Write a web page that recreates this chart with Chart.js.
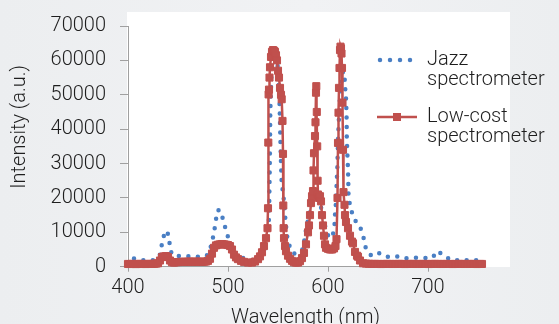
<!DOCTYPE html>
<html>
<head>
<meta charset="utf-8">
<script src="https://cdn.jsdelivr.net/npm/chart.js@4.4.1/dist/chart.umd.min.js"></script>
<style>
    html, body { margin: 0; padding: 0; }
    body {
        width: 559px;
        height: 324px;
        overflow: hidden;
        position: relative;
        background: linear-gradient(90deg, #eceef0 0%, #f1f2f4 55%, #eceef0 100%);
    }
    #plotBg { position: absolute; left: 127px; top: 12px; width: 383px; height: 255px; background: #fff; }
    #chart { position: absolute; left: 0; top: 0; }
</style>
</head>
<body>
<div id="plotBg"></div>
<canvas id="chart" width="559" height="324"></canvas>
<script>
const FONT = 'Roboto, "DejaVu Sans", sans-serif';
const FONT_WEIGHT = 300;
const TEXT_COLOR = '#1e1e1e';
const AXIS_COLOR = '#a0a0a0';
const JAZZ_COLOR = '#4a7fc4';
const LOWCOST_COLOR = '#c0504d';

const seriesNames = [['Jazz', 'spectrometer'], ['Low-cost', 'spectrometer']];
const xTitle = 'Wavelength (nm)';
const yTitle = 'Intensity (a.u.)';

// Jazz spectrometer
const jazzWavelength = [
    406, 415, 425, 430, 432, 434, 436.3, 438.5, 440, 441.3,
    442.7, 445, 448, 457, 466, 476, 480, 483, 484.3, 486.3,
    487.7, 489.7, 491.5, 493.7, 496.3, 499.3, 502, 505, 509, 513.7,
    519, 525, 530, 534, 537, 539, 541, 541.8, 542.3, 543.5,
    545.5, 547, 548.5, 550, 551.3, 552, 552.8, 553.7, 555.3, 557,
    559, 562, 566, 571, 575.3, 577, 580, 583, 586, 588.7,
    591, 594, 596, 598.7, 600.5, 603, 605, 606.5, 607, 608,
    608.7, 609.3, 609.7, 610.3, 611, 612, 613.7, 615, 616.5, 617.3,
    617.9, 618.5, 618.7, 618.8, 619.3, 620, 620.3, 620.5, 622, 624.7,
    628.7, 633, 636, 638, 643.7, 652, 660, 668, 677, 686,
    695, 704, 710, 716, 724, 734, 743, 752
];
const jazzIntensity = [
    2400, 1900, 1900, 2500, 3600, 6700, 9500, 10500, 9500, 7400,
    4500, 3300, 3100, 3100, 2900, 2900, 3500, 6000, 7500, 10400,
    13300, 16400, 16500, 15100, 12300, 9400, 6500, 4500, 3300, 2600,
    2200, 1900, 2300, 3300, 5000, 8000, 14000, 30000, 45000, 57000,
    62500, 63500, 62500, 57000, 50000, 42000, 32000, 24000, 21200, 15000,
    9000, 5500, 3800, 4000, 5300, 9200, 13500, 17500, 20500, 21700,
    20000, 16000, 13000, 10100, 8800, 8300, 9500, 12000, 15000, 18800,
    24600, 28400, 33200, 39000, 43800, 49600, 54400, 56800, 55500, 51500,
    49600, 44800, 41000, 37100, 33200, 28400, 24600, 20700, 17800, 15000,
    12700, 10900, 8000, 5100, 3100, 4000, 2900, 3100, 2400, 2600,
    2500, 2500, 4600, 3100, 1900, 1900, 1900, 1900
];

// Low-cost spectrometer (square markers)
const lowCostWavelength = [
    400, 402, 404, 406, 408, 410, 412, 414, 416, 418,
    420, 422, 424, 426, 428, 430, 432, 434, 436, 438,
    440, 442, 444, 446, 448, 450, 452, 454, 456, 458,
    460, 462, 464, 466, 468, 470, 472, 474, 476, 478,
    480, 482, 484, 486, 488, 490, 492, 494, 496, 498,
    500, 502, 504, 506, 508, 510, 513, 516, 520, 524,
    527, 530, 532, 534, 536, 538, 539.5, 540, 540.3, 540.6,
    541, 541.5, 542, 543, 544, 545, 546, 547, 548, 549,
    550, 551, 552, 553, 553.7, 554.5, 555, 555.3, 555.6, 556,
    557, 558, 560, 562, 564, 566, 568, 570, 572, 574,
    576, 578, 580, 581, 582, 583, 584, 585, 585.5, 586,
    587, 587.5, 588, 588.3, 588.8, 589.2, 589.6, 590, 591, 592,
    593, 594, 595, 596, 597, 598, 600, 602, 604, 606,
    607.5, 608.5, 609.5, 610, 610.5, 611, 611.5, 612, 612.5, 613,
    613.5, 614, 614.5, 615, 615.5, 616.5, 617, 618, 620, 622,
    624, 625, 627, 629, 630, 632, 635, 638, 641, 644,
    647, 650, 653, 656, 659, 662, 665, 668, 671, 674,
    677, 680, 683, 686, 689, 692, 695, 698, 701, 704,
    707, 710, 713, 716, 719, 722, 725, 728, 731, 734,
    737, 740, 743, 746, 749, 752, 754
];
const lowCostIntensity = [
    800, 780, 820, 800, 760, 800, 820, 790, 800, 780,
    800, 820, 800, 850, 900, 1000, 1800, 2800, 3000, 3100,
    2800, 1800, 1300, 1200, 1300, 1350, 1400, 1400, 1450, 1400,
    1450, 1500, 1450, 1400, 1450, 1500, 1450, 1400, 1450, 1500,
    1700, 2300, 3800, 5500, 6200, 6400, 6500, 6600, 6500, 6400,
    6300, 6000, 5000, 3500, 2700, 2200, 1700, 1400, 1200, 1200,
    1500, 2200, 3000, 4200, 6000, 8300, 11200, 17000, 36100, 50100,
    51500, 55000, 58000, 61000, 62500, 63000, 62800, 62500, 61500, 60000,
    57000, 55000, 52000, 50000, 48700, 42400, 32800, 17800, 11200, 8300,
    6000, 4500, 3200, 2300, 1700, 1300, 1200, 1200, 1600, 2500,
    4000, 6500, 10000, 12000, 15000, 18500, 20500, 22000, 28000, 33000,
    38000, 42000, 50600, 52500, 45000, 35000, 25000, 21000, 20000, 20500,
    19000, 15000, 12000, 9000, 6500, 5500, 5200, 5000, 5000, 5300,
    6000, 8000, 20000, 36000, 44800, 52000, 57800, 63000, 64000, 63500,
    62000, 57800, 47700, 34000, 21700, 18000, 15000, 13000, 11200, 9000,
    7300, 6800, 4300, 3200, 2900, 1800, 1000, 900, 850, 800,
    820, 800, 780, 800, 820, 800, 790, 800, 820, 800,
    780, 800, 820, 800, 790, 800, 810, 800, 780, 800,
    820, 800, 790, 800, 810, 800, 780, 800, 820, 800,
    790, 800, 810, 800, 780, 800, 800
];

const xMin = 400, xMax = 755, xStep = 100;
const yMin = 0, yMax = 70000, yStep = 10000;

function toPoints(xs, ys) {
    return xs.map((x, i) => ({ x: x, y: ys[i] }));
}

const tickFont = { family: FONT, size: 20, weight: FONT_WEIGHT };

// legend drawn to the right, two lines per entry
const sideLegend = {
    id: 'sideLegend',
    afterDraw(chart) {
        const ctx = chart.ctx;
        ctx.save();
        ctx.font = FONT_WEIGHT + ' 20px ' + FONT;
        ctx.fillStyle = TEXT_COLOR;
        ctx.textBaseline = 'middle';
        ctx.textAlign = 'left';

        // Jazz: dotted sample
        ctx.strokeStyle = JAZZ_COLOR;
        ctx.lineWidth = 4.5;
        ctx.lineCap = 'round';
        ctx.setLineDash([0, 10]);
        ctx.beginPath();
        ctx.moveTo(380, 60);
        ctx.lineTo(411, 60);
        ctx.stroke();
        ctx.setLineDash([]);
        ctx.fillText(seriesNames[0][0], 427, 60);
        ctx.fillText(seriesNames[0][1], 427, 80);

        // Low-cost: line with square marker
        ctx.strokeStyle = LOWCOST_COLOR;
        ctx.lineWidth = 2.5;
        ctx.lineCap = 'butt';
        ctx.beginPath();
        ctx.moveTo(377, 117);
        ctx.lineTo(417, 117);
        ctx.stroke();
        ctx.fillStyle = LOWCOST_COLOR;
        ctx.fillRect(393, 113, 8, 8);
        ctx.fillStyle = TEXT_COLOR;
        ctx.fillText(seriesNames[1][0], 427, 117);
        ctx.fillText(seriesNames[1][1], 427, 137);
        ctx.restore();
    }
};

const ctx = document.getElementById('chart').getContext('2d');
new Chart(ctx, {
    type: 'line',
    data: {
        datasets: [
            {
                label: 'Jazz spectrometer',
                data: toPoints(jazzWavelength, jazzIntensity),
                borderColor: JAZZ_COLOR,
                borderWidth: 4.5,
                borderDash: [0, 9.5],
                borderCapStyle: 'round',
                pointRadius: 0,
                tension: 0,
                clip: false,
                order: 1,
            },
            {
                label: 'Low-cost spectrometer',
                data: toPoints(lowCostWavelength, lowCostIntensity),
                borderColor: LOWCOST_COLOR,
                backgroundColor: LOWCOST_COLOR,
                borderWidth: 2.5,
                pointStyle: 'rect',
                pointRadius: 5,
                pointBorderWidth: 1,
                pointBorderColor: LOWCOST_COLOR,
                pointBackgroundColor: LOWCOST_COLOR,
                tension: 0,
                clip: false,
                order: 0,
            }
        ]
    },
    options: {
        responsive: false,
        animation: false,
        events: [],
        layout: { padding: { left: 0, top: 24, right: 76, bottom: 0 } },
        plugins: {
            legend: { display: false },
            tooltip: { enabled: false }
        },
        scales: {
            x: {
                type: 'linear',
                min: xMin,
                max: xMax,
                ticks: {
                    stepSize: xStep,
                    includeBounds: false,
                    color: TEXT_COLOR,
                    font: tickFont,
                    padding: 4,
                    maxRotation: 0,
                },
                grid: { drawOnChartArea: false, drawTicks: true, tickLength: 5, color: AXIS_COLOR },
                border: { display: true, color: AXIS_COLOR, width: 1 },
                title: {
                    display: true,
                    text: xTitle,
                    color: TEXT_COLOR,
                    font: tickFont,
                    padding: { top: 0, bottom: -6 },
                },
                afterFit(scale) { scale.height = 57.3; }
            },
            y: {
                min: yMin,
                max: yMax,
                ticks: {
                    stepSize: yStep,
                    color: TEXT_COLOR,
                    font: tickFont,
                    padding: 14,
                    callback: (v) => String(v),
                },
                grid: { drawOnChartArea: false, drawTicks: true, tickLength: 8, color: AXIS_COLOR },
                border: { display: true, color: AXIS_COLOR, width: 1 },
                title: {
                    display: true,
                    text: '        ' + yTitle,
                    color: TEXT_COLOR,
                    font: tickFont,
                    padding: { top: 8, bottom: 0 },
                },
                afterFit(scale) { scale.width = 128; }
            }
        }
    },
    plugins: [sideLegend]
});
</script>
</body>
</html>
